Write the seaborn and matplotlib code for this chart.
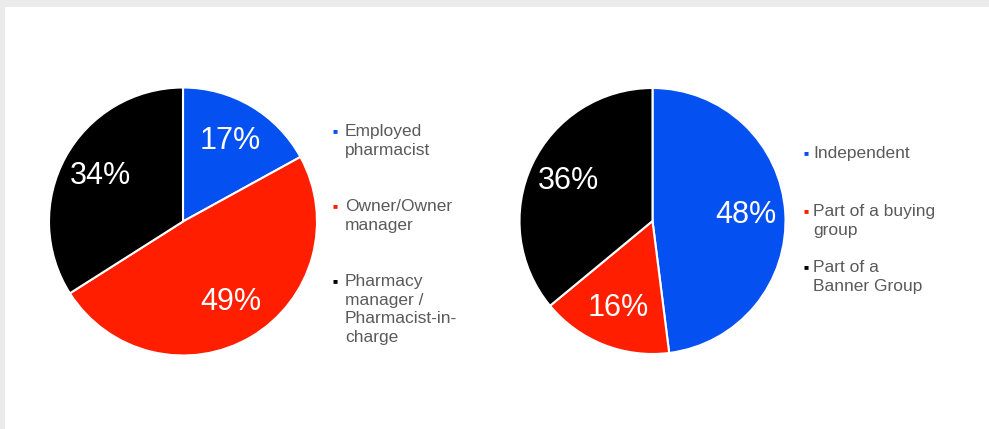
import matplotlib
matplotlib.use("Agg")
import matplotlib.pyplot as plt
import seaborn as sns

# ---- data ----
roles = ["Employed\npharmacist", "Owner/Owner\nmanager", "Pharmacy\nmanager /\nPharmacist-in-\ncharge"]
role_values = [17, 49, 34]
types = ["Independent", "Part of a buying\ngroup", "Part of a\nBanner Group"]
type_values = [48, 16, 36]
colors = ["#0550F0", "#FF1E00", "#000000"]

sns.set_theme(style="white")
plt.rcParams["font.family"] = ["Liberation Sans", "DejaVu Sans"]

W, H = 989, 429
fig = plt.figure(figsize=(W / 100, H / 100), dpi=100, facecolor="#EBEBEB")

# white panel
bg = fig.add_axes([5 / W, 0, 1 - 5 / W, 1 - 7 / H])
bg.set_facecolor("white")
bg.set_xticks([]); bg.set_yticks([])
for s in bg.spines.values():
    s.set_visible(False)


def pie_axes(cx, cy, r):
    ax = fig.add_axes([(cx - r) / W, 1 - (cy + r) / H, 2 * r / W, 2 * r / H])
    return ax


def draw(ax, vals):
    ax.pie(
        vals, colors=colors, startangle=90, counterclock=False, radius=1,
        autopct=lambda p: f"{p:.0f}%", pctdistance=0.7,
        wedgeprops=dict(edgecolor="white", linewidth=1.5),
        textprops=dict(color="white", fontsize=22))
    ax.set_xlim(-1, 1); ax.set_ylim(-1, 1)
    ax.set_aspect("equal")
    ax.axis("off")


def legend(labels, mx, tx, ys):
    for lab, col, y in zip(labels, colors, ys):
        fig.text(mx / W, 1 - y / H, "\u25A0", color=col, fontsize=6,
                 ha="center", va="center")
        fig.text(tx / W, 1 - (y - 8) / H, lab, color="#5A5A5A", fontsize=12.5,
                 ha="left", va="top", linespacing=1.3)


ax1 = pie_axes(183, 221.5, 134)
draw(ax1, role_values)
legend(roles, 335, 345, [132, 207, 282])

ax2 = pie_axes(652.5, 221, 133)
draw(ax2, type_values)
legend(types, 806, 813, [154, 212, 268])

fig.savefig("out.png", dpi=100, facecolor=fig.get_facecolor())
